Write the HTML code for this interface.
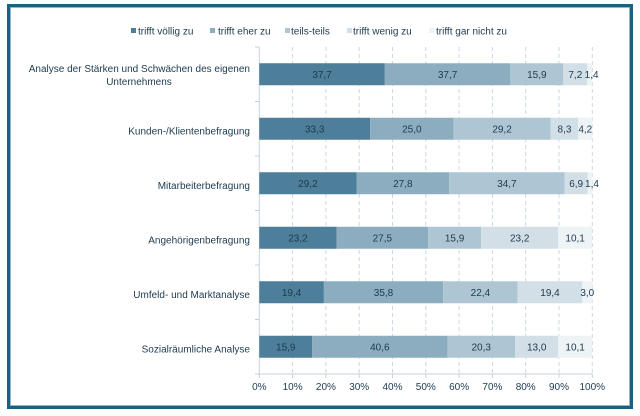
<!DOCTYPE html>
<html><head><meta charset="utf-8"><style>
html,body{margin:0;padding:0;background:#fff;}
svg{display:block;font-family:"Liberation Sans",Arial,sans-serif;}
</style></head><body>
<svg width="640" height="416" viewBox="0 0 640 416" xmlns="http://www.w3.org/2000/svg">
<rect x="0" y="0" width="640" height="416" fill="#fff"/>
<rect x="8.5" y="5.5" width="623" height="402" fill="none" stroke="#1d5f82" stroke-width="3"/>
<rect x="10.5" y="7.5" width="619" height="398" fill="none" stroke="#8fb6cc" stroke-width="1"/>

<!-- legend -->
<g font-size="10" fill="#1c3a50">
<rect x="131" y="28" width="5" height="5" fill="#4d7e9a"/><text x="138" y="34.5">trifft völlig zu</text>
<rect x="210" y="28" width="5" height="5" fill="#8cadbf"/><text x="218" y="34.5">trifft eher zu</text>
<rect x="285" y="28" width="5" height="5" fill="#aec6d3"/><text x="291" y="34.5">teils-teils</text>
<rect x="347" y="28" width="5" height="5" fill="#d2dfe6"/><text x="353" y="34.5">trifft wenig zu</text>
<rect x="429" y="28" width="5" height="5" fill="#eef3f6"/><text x="436" y="34.5">trifft gar nicht zu</text>
</g>

<!-- gridlines -->
<g stroke="#cbd8e0" stroke-width="1" stroke-dasharray="4,3">
<line x1="292.6" y1="47" x2="292.6" y2="374"/>
<line x1="325.9" y1="47" x2="325.9" y2="374"/>
<line x1="359.2" y1="47" x2="359.2" y2="374"/>
<line x1="392.5" y1="47" x2="392.5" y2="374"/>
<line x1="425.8" y1="47" x2="425.8" y2="374"/>
<line x1="459.1" y1="47" x2="459.1" y2="374"/>
<line x1="492.4" y1="47" x2="492.4" y2="374"/>
<line x1="525.7" y1="47" x2="525.7" y2="374"/>
<line x1="559.0" y1="47" x2="559.0" y2="374"/>
<line x1="592.3" y1="47" x2="592.3" y2="374"/>
</g>
<!-- axes -->
<g stroke="#c5d1d9" stroke-width="1">
<line x1="259.3" y1="47" x2="259.3" y2="374"/>
<line x1="259.3" y1="374" x2="592.3" y2="374"/>
<line x1="255" y1="47" x2="259.3" y2="47"/>
<line x1="255" y1="101.5" x2="259.3" y2="101.5"/>
<line x1="255" y1="156" x2="259.3" y2="156"/>
<line x1="255" y1="210.5" x2="259.3" y2="210.5"/>
<line x1="255" y1="265" x2="259.3" y2="265"/>
<line x1="255" y1="319.5" x2="259.3" y2="319.5"/>
<line x1="255" y1="374" x2="259.3" y2="374"/>
<line x1="259.3" y1="374" x2="259.3" y2="378"/>
<line x1="292.6" y1="374" x2="292.6" y2="378"/>
<line x1="325.9" y1="374" x2="325.9" y2="378"/>
<line x1="359.2" y1="374" x2="359.2" y2="378"/>
<line x1="392.5" y1="374" x2="392.5" y2="378"/>
<line x1="425.8" y1="374" x2="425.8" y2="378"/>
<line x1="459.1" y1="374" x2="459.1" y2="378"/>
<line x1="492.4" y1="374" x2="492.4" y2="378"/>
<line x1="525.7" y1="374" x2="525.7" y2="378"/>
<line x1="559.0" y1="374" x2="559.0" y2="378"/>
<line x1="592.3" y1="374" x2="592.3" y2="378"/>
</g>

<!-- x labels -->
<g font-size="10" fill="#1c3a50" text-anchor="middle">
<text x="259.3" y="390">0%</text>
<text x="292.6" y="390">10%</text>
<text x="325.9" y="390">20%</text>
<text x="359.2" y="390">30%</text>
<text x="392.5" y="390">40%</text>
<text x="425.8" y="390">50%</text>
<text x="459.1" y="390">60%</text>
<text x="492.4" y="390">70%</text>
<text x="525.7" y="390">80%</text>
<text x="559.0" y="390">90%</text>
<text x="592.3" y="390">100%</text>
</g>

<!-- category labels -->
<g font-size="10" fill="#1c3a50">
<text x="250" y="72" text-anchor="end">Analyse der Stärken und Schwächen des eigenen</text>
<text x="139" y="85" text-anchor="middle">Unternehmens</text>
<text x="250" y="134.5" text-anchor="end">Kunden-/Klientenbefragung</text>
<text x="250" y="189" text-anchor="end">Mitarbeiterbefragung</text>
<text x="250" y="243.5" text-anchor="end">Angehörigenbefragung</text>
<text x="250" y="298" text-anchor="end">Umfeld- und Marktanalyse</text>
<text x="250" y="352.5" text-anchor="end">Sozialräumliche Analyse</text>
</g>

<!-- bars -->
<g id="bars"></g>
<g font-size="10" fill="#1c3a50" text-anchor="middle" id="lbls"></g>
<script>
(function(){
var data=[[37.7,37.7,15.9,7.2,1.4],[33.3,25.0,29.2,8.3,4.2],[29.2,27.8,34.7,6.9,1.4],[23.2,27.5,15.9,23.2,10.1],[19.4,35.8,22.4,19.4,3.0],[15.9,40.6,20.3,13.0,10.1]];
var cols=["#4d7e9a","#8cadbf","#aec6d3","#d2dfe6","#eef3f6"];
var x0=259.3,s=3.33,ns="http://www.w3.org/2000/svg";
var bars=document.getElementById("bars"),lbls=document.getElementById("lbls");
for(var r=0;r<6;r++){
 var cy=74.25+r*54.5, y=cy-11, cum=0;
 for(var i=0;i<5;i++){
  var v=data[r][i],xa=x0+cum*s,w=v*s;cum+=v;
  var re=document.createElementNS(ns,"rect");
  re.setAttribute("x",xa);re.setAttribute("y",y);re.setAttribute("width",w);re.setAttribute("height",22);re.setAttribute("fill",cols[i]);
  bars.appendChild(re);
  var t=document.createElementNS(ns,"text");
  var cx=xa+w/2; if(w<8) cx=xa+w/2+2;
  t.setAttribute("x",cx);t.setAttribute("y",cy+3.5);
  t.textContent=v.toFixed(1).replace(".",",");
  lbls.appendChild(t);
 }
}
})();
</script>
</svg>
</body></html>
